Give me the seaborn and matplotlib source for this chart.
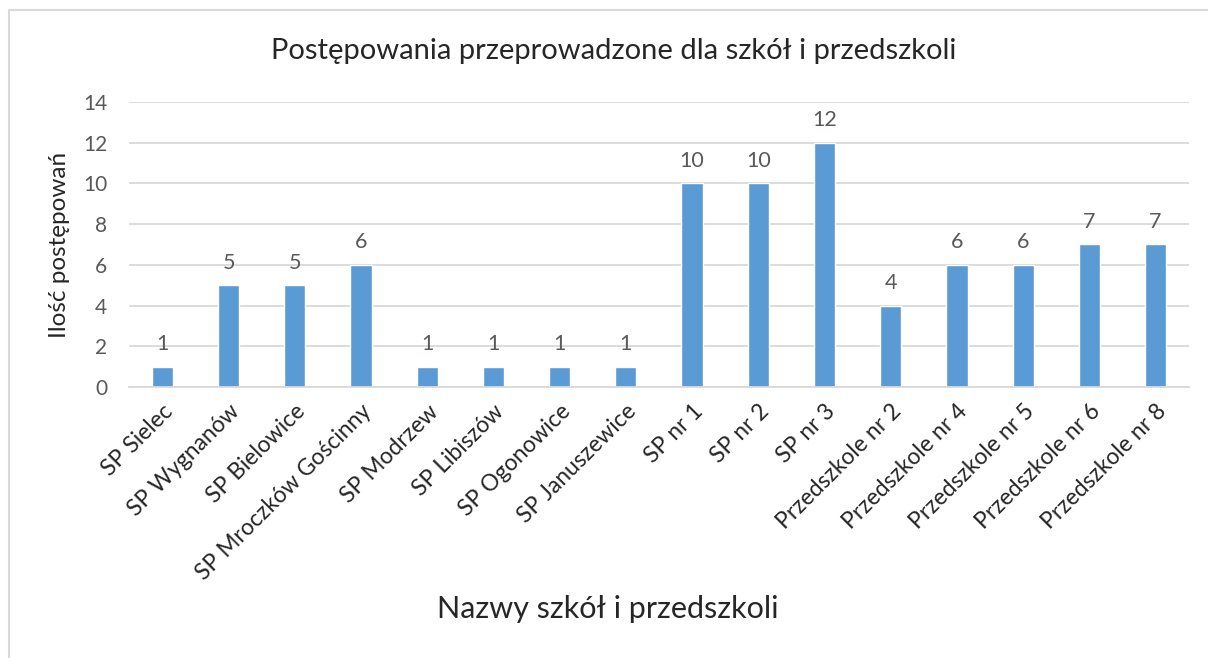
import matplotlib
matplotlib.use("Agg")
import matplotlib.pyplot as plt
import seaborn as sns
import pandas as pd
from matplotlib.patches import Rectangle

# ==========
# DATA
# ==========

schools = [
    "SP Sielec", "SP Wygnanów", "SP Bielowice", "SP Mroczków Gościnny",
    "SP Modrzew", "SP Libiszów", "SP Ogonowice", "SP Januszewice",
    "SP nr 1", "SP nr 2", "SP nr 3", "Przedszkole nr 2",
    "Przedszkole nr 4", "Przedszkole nr 5", "Przedszkole nr 6", "Przedszkole nr 8",
]
counts = [1, 5, 5, 6, 1, 1, 1, 1, 10, 10, 12, 4, 6, 6, 7, 7]
y_ticks = [0, 2, 4, 6, 8, 10, 12, 14]

title = "Postępowania przeprowadzone dla szkół i przedszkoli"
x_label = "Nazwy szkół i przedszkoli"
y_label = "Ilość postępowań"

# ==========
# STYLE
# ==========

sns.set_style("white")
plt.rcParams["font.family"] = ["Lato", "DejaVu Sans"]

BAR = "#5B9BD5"
GRID = "#D9D9D9"
GREY_TXT = "#595959"


def main():
    df = pd.DataFrame({"school": schools, "count": counts})

    fig = plt.figure(figsize=(12.08, 6.58), dpi=100)
    ax = fig.add_axes([0.107, 0.412, 0.877, 0.433])

    sns.barplot(data=df, x="school", y="count", color=BAR, width=0.32,
                saturation=1, ax=ax)

    ax.set_ylim(0, 14)
    ax.set_xlim(-0.5, len(schools) - 0.5)
    ax.set_yticks(y_ticks)
    ax.yaxis.grid(True, color=GRID, linewidth=1.3)
    ax.set_axisbelow(True)
    for side in ["top", "right", "left"]:
        ax.spines[side].set_visible(False)
    ax.spines["bottom"].set_color(GRID)
    ax.spines["bottom"].set_linewidth(1.3)
    ax.tick_params(axis="both", length=0)
    ax.tick_params(axis="y", labelsize=15, labelcolor=GREY_TXT, pad=16)

    ax.set_xticks(range(len(schools)))
    ax.set_xticklabels(schools, rotation=45, ha="right", va="top",
                       rotation_mode="anchor", fontsize=16.5)
    ax.tick_params(axis="x", pad=10)

    for container in ax.containers:
        ax.bar_label(container, padding=9, fontsize=15.5, color=GREY_TXT)

    ax.set_xlabel("")
    ax.set_ylabel(y_label, fontsize=17.5, labelpad=9)
    fig.text(0.503, 0.075, x_label, ha="center", va="center", fontsize=22)
    fig.text(0.508, 0.922, title, ha="center", va="center", fontsize=21)

    # chart border
    fig.patches.append(Rectangle((9 / 1208, -0.05), 1.2, 1 - 10 / 658 + 0.05,
                                 transform=fig.transFigure, fill=False,
                                 edgecolor=GRID, linewidth=1.5))

    fig.savefig("out.png", dpi=100)


if __name__ == "__main__":
    main()
